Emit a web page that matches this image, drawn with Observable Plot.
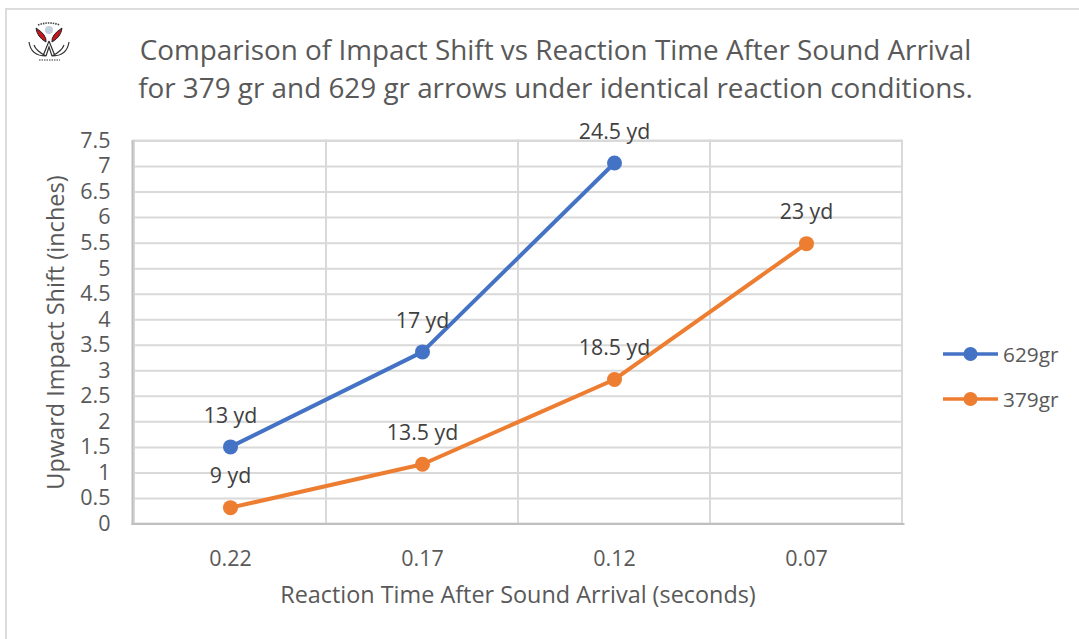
<!DOCTYPE html>
<html><head><meta charset="utf-8">
<script src="https://cdn.jsdelivr.net/npm/d3@7"></script>
<script src="https://cdn.jsdelivr.net/npm/@observablehq/plot@0.6"></script>
<style>
html,body{margin:0;padding:0;background:#fff;width:1079px;height:639px;overflow:hidden;font-family:"Open Sans",sans-serif}
#chart{position:relative;width:1079px;height:639px}
#edge{position:absolute;left:5px;top:8px;width:1080px;height:640px;border:2px solid #dcdcdc;box-sizing:border-box}
#logo{position:absolute;left:24px;top:18px}
#title{position:absolute;left:0;top:30px;width:1111px;text-align:center;font-size:27.85px;line-height:38px;color:#595959;white-space:nowrap}
#plot{position:absolute;left:0;top:120px}
#legend{position:absolute;left:943px;top:331px}
.row{display:flex;align-items:center;height:45px;color:#595959;font-size:20.8px}
.row span{margin-left:5px}
</style></head><body>
<div id="chart">
<div id="edge"></div>
<svg id="logo" width="50" height="46" viewBox="0 0 50 46">
<path d="M12 10 Q13 19 22 24 Q23 17 12 10 Z M38 10 Q37 19 28 24 Q27 17 38 10 Z" fill="#c8161d" stroke="#222" stroke-width="1"/>
<path d="M5 24 Q7 38 22 38 Q12 33 10 27 M45 24 Q43 38 28 38 Q38 33 40 27 M25 23 L19 38 M25 23 L31 38 M22 38 L25 29 L28 38" fill="none" stroke="#333" stroke-width="1.2"/>
<circle cx="25" cy="12" r="4" fill="#c3d0dd"/>
<path d="M14 7 Q25 3 36 7" fill="none" stroke="#444" stroke-width="1.6" stroke-dasharray="1.5 1"/>
<path d="M15 42 H36" stroke="#777" stroke-width="1.4" stroke-dasharray="1.5 1"/>
</svg>
<div id="title">Comparison of Impact Shift vs Reaction Time After Sound Arrival<br>for 379 gr and 629 gr arrows under identical reaction conditions.</div>
<div id="plot"></div>
<div id="legend"></div>
</div>
<script>
const categories = ["0.22", "0.17", "0.12", "0.07"];
const yTicks = [0, 0.5, 1, 1.5, 2, 2.5, 3, 3.5, 4, 4.5, 5, 5.5, 6, 6.5, 7, 7.5];
const x629 = ["0.22", "0.17", "0.12"];
const y629 = [1.51, 3.37, 7.07];
const labels629 = ["13 yd", "17 yd", "24.5 yd"];
const x379 = ["0.22", "0.17", "0.12", "0.07"];
const y379 = [0.32, 1.17, 2.83, 5.49];
const labels379 = ["9 yd", "13.5 yd", "18.5 yd", "23 yd"];
const seriesNames = ["629gr", "379gr"];
const seriesColors = ["#4472c4", "#ed7d31"];

const rows = (xs, ys, ls, s) => xs.map((x, i) => ({x, y: ys[i], label: ls[i], s}));
const data = [...rows(x629, y629, labels629, seriesNames[0]), ...rows(x379, y379, labels379, seriesNames[1])];
const gridColor = "#d9d9d9", axisColor = "#bfbfbf", textColor = "#595959";

const chart = Plot.plot({
  width: 1079, height: 500,
  marginLeft: 132, marginRight: 176, marginTop: 20.5, marginBottom: 96.5,
  style: {background: "transparent", overflow: "visible", fontFamily: '"Open Sans",sans-serif'},
  x: {type: "band", domain: categories, padding: 0, align: 0.5},
  y: {domain: [0, 7.5]},
  color: {domain: seriesNames, range: seriesColors},
  marks: [
    Plot.ruleY(yTicks, {stroke: gridColor, strokeWidth: 2, strokeOpacity: 1}),
    Plot.cell(categories, {x: d => d, fill: "none", stroke: gridColor, strokeWidth: 2, inset: 0}),
    Plot.frame({anchor: "left", stroke: axisColor, strokeWidth: 2}),
    Plot.frame({anchor: "bottom", stroke: axisColor, strokeWidth: 2}),
    Plot.axisY({ticks: yTicks, tickFormat: d => String(d), tickSize: 0, tickPadding: 22, fontSize: 21.5, color: textColor,
      label: null}),
    Plot.axisX({tickSize: 0, tickPadding: 27, fontSize: 21.5, color: textColor, label: null}),
    Plot.axisX({tickSize: 0, tickPadding: 0, ticks: [], label: "Reaction Time After Sound Arrival (seconds)", labelAnchor: "center", labelArrow: "none", labelOffset: 79, fontSize: 23.4, color: textColor}),
    Plot.axisY({tickSize: 0, ticks: [], label: "Upward Impact Shift (inches)", labelAnchor: "center", labelArrow: "none", labelOffset: 85, fontSize: 23.5, color: textColor}),
    Plot.line(data, {x: "x", y: "y", z: "s", stroke: "s", strokeWidth: 4}),
    Plot.dot(data, {x: "x", y: "y", fill: "s", r: 7.5, stroke: "none"}),
    Plot.text(data, {x: "x", y: "y", text: "label", dy: -31, fontSize: 21.3, fill: "#404040"})
  ]
});
document.getElementById("plot").appendChild(chart);

const legend = d3.select("#legend");
seriesNames.forEach((name, i) => {
  const row = legend.append("div").attr("class", "row");
  const svg = row.append("svg").attr("width", 55).attr("height", 16);
  svg.append("line").attr("x1", 0).attr("x2", 55).attr("y1", 8).attr("y2", 8).attr("stroke", seriesColors[i]).attr("stroke-width", 3.5).attr("stroke-linecap", "round");
  svg.append("circle").attr("cx", 27.5).attr("cy", 8).attr("r", 7).attr("fill", seriesColors[i]);
  row.append("span").text(name);
});
</script>
</body></html>
